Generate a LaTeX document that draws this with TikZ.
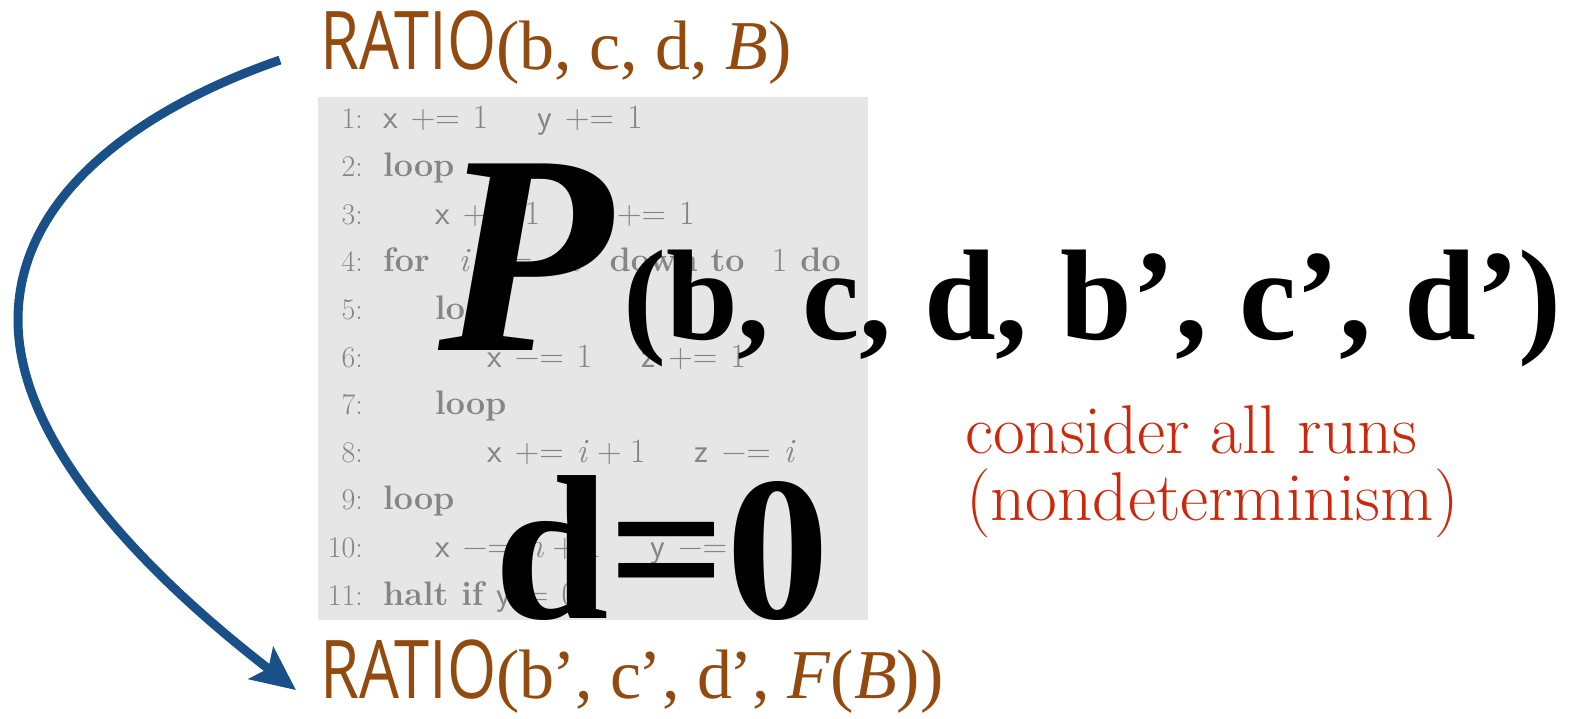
\documentclass[tikz,border=0pt]{standalone}
\usepackage{fontspec}
\usepackage{graphicx}
\usetikzlibrary{arrows.meta}
\newfontfamily\tms{Liberation Serif}
\newfontfamily\sfr{Open Sans}
\setmainfont{Latin Modern Roman}
\definecolor{codegray}{RGB}{133,133,133}
\definecolor{boxgray}{RGB}{230,230,230}
\definecolor{brownlab}{RGB}{146,74,14}
\definecolor{redlab}{RGB}{204,41,12}
\definecolor{flowblue}{RGB}{26,80,136}
\newcommand\plusEq{\hspace{0.38em}+=\hspace{0.38em}}
\newcommand\minusEq{\hspace{0.38em}−=\hspace{0.38em}}
\newcommand\vv[1]{\textsf{#1}}
\newcommand\gap{\hspace{1.45em}}
\newcommand\rlab{{\sfr\fontsize{81}{81}\selectfont\scalebox{0.78}[1]{RATIO}}}
\begin{document}
\begin{tikzpicture}[x=1pt,y=-1pt,
  code/.style={anchor=base west,inner sep=0pt,text=codegray,font=\fontsize{34}{34}\selectfont},
  lnum/.style={anchor=base east,inner sep=0pt,text=codegray,font=\fontsize{30}{30}\selectfont},
  big/.style={anchor=base west,inner sep=0pt,text=black},
  lab/.style={anchor=base west,inner sep=0pt,text=brownlab,font=\tms\fontsize{70}{70}\selectfont},
  note/.style={anchor=base west,inner sep=0pt,text=redlab,font=\fontsize{69}{69}\selectfont},
  flow/.style={draw=flowblue,line width=9pt,-{Stealth[length=44pt,width=40pt,inset=9pt]}}]
\useasboundingbox (0,0) rectangle (1569,719);
\fill[boxgray] (318,97) rectangle (868,620);
% code lines
\foreach \k/\ind/\txt in {
 1/0/{\vv{x}\plusEq 1\gap\vv{y}\plusEq 1},
 2/0/{\textbf{loop}},
 3/1/{\vv{x}\plusEq 1\gap\vv{y}\plusEq 1},
 4/0/{\textbf{for}\hspace{0.85em}\textit{i}\hspace{0.85em}:=\hspace{0.85em}\textit{n}\hspace{0.85em}\textbf{down to}\hspace{0.8em}1\hspace{0.38em}\textbf{do}},
 5/1/{\textbf{loop}},
 6/2/{\vv{x}\minusEq 1\gap\vv{z}\plusEq 1},
 7/1/{\textbf{loop}},
 8/2/{\vv{x}\plusEq \textit{i}\hspace{0.25em}+\hspace{0.25em}1\gap\vv{z}\minusEq \textit{i}},
 9/0/{\textbf{loop}},
 10/1/{\vv{x}\minusEq \textit{n}\hspace{0.25em}+\hspace{0.25em}1\gap\vv{y}\minusEq 1},
 11/0/{\textbf{halt if} \vv{y}\hspace{0.38em}=\hspace{0.38em}0}}{
  \node[lnum] (n\k) at (363,{129+47.6*(\k-1)}) {\k:};
  \node[code] (c\k) at ({383+52*\ind},{129+47.6*(\k-1)}) {\txt};
}
% big black text
\node[big,font=\tms\fontsize{285}{285}\selectfont\bfseries\itshape] (P) at (438,350) {P};
\node[big,font=\tms\fontsize{129}{129}\selectfont\bfseries] (args) at (623,339) {(b, c, d, b’, c’, d’)};
\node[big,font=\tms\fontsize{206}{206}\selectfont\bfseries] (d0) at (494,618) {d=0};
% labels
\node[lab] (rtop) at (320,70) {\rlab(b, c, d, \textit{B})};
\node[lab] (rbot) at (320,698) {\rlab(b\kern-0.04em’, c\kern-0.04em’, d\kern-0.04em’, \textit{F}(\textit{B}))};
\node[note] (r1) at (965,453) {consider all runs};
\node[note] (r2) at (966,520) {(nondeterminism)};
% arrow
\coordinate (s) at ([xshift=-40pt,yshift=-12pt]rtop.west);
\coordinate (t) at ([xshift=-24pt,yshift=-14pt]rbot.west);
\draw[flow] (s) .. controls (150,105) and (18,190) .. (18,320) .. controls (18,450) and (160,585) .. (t);
\end{tikzpicture}
\end{document}
